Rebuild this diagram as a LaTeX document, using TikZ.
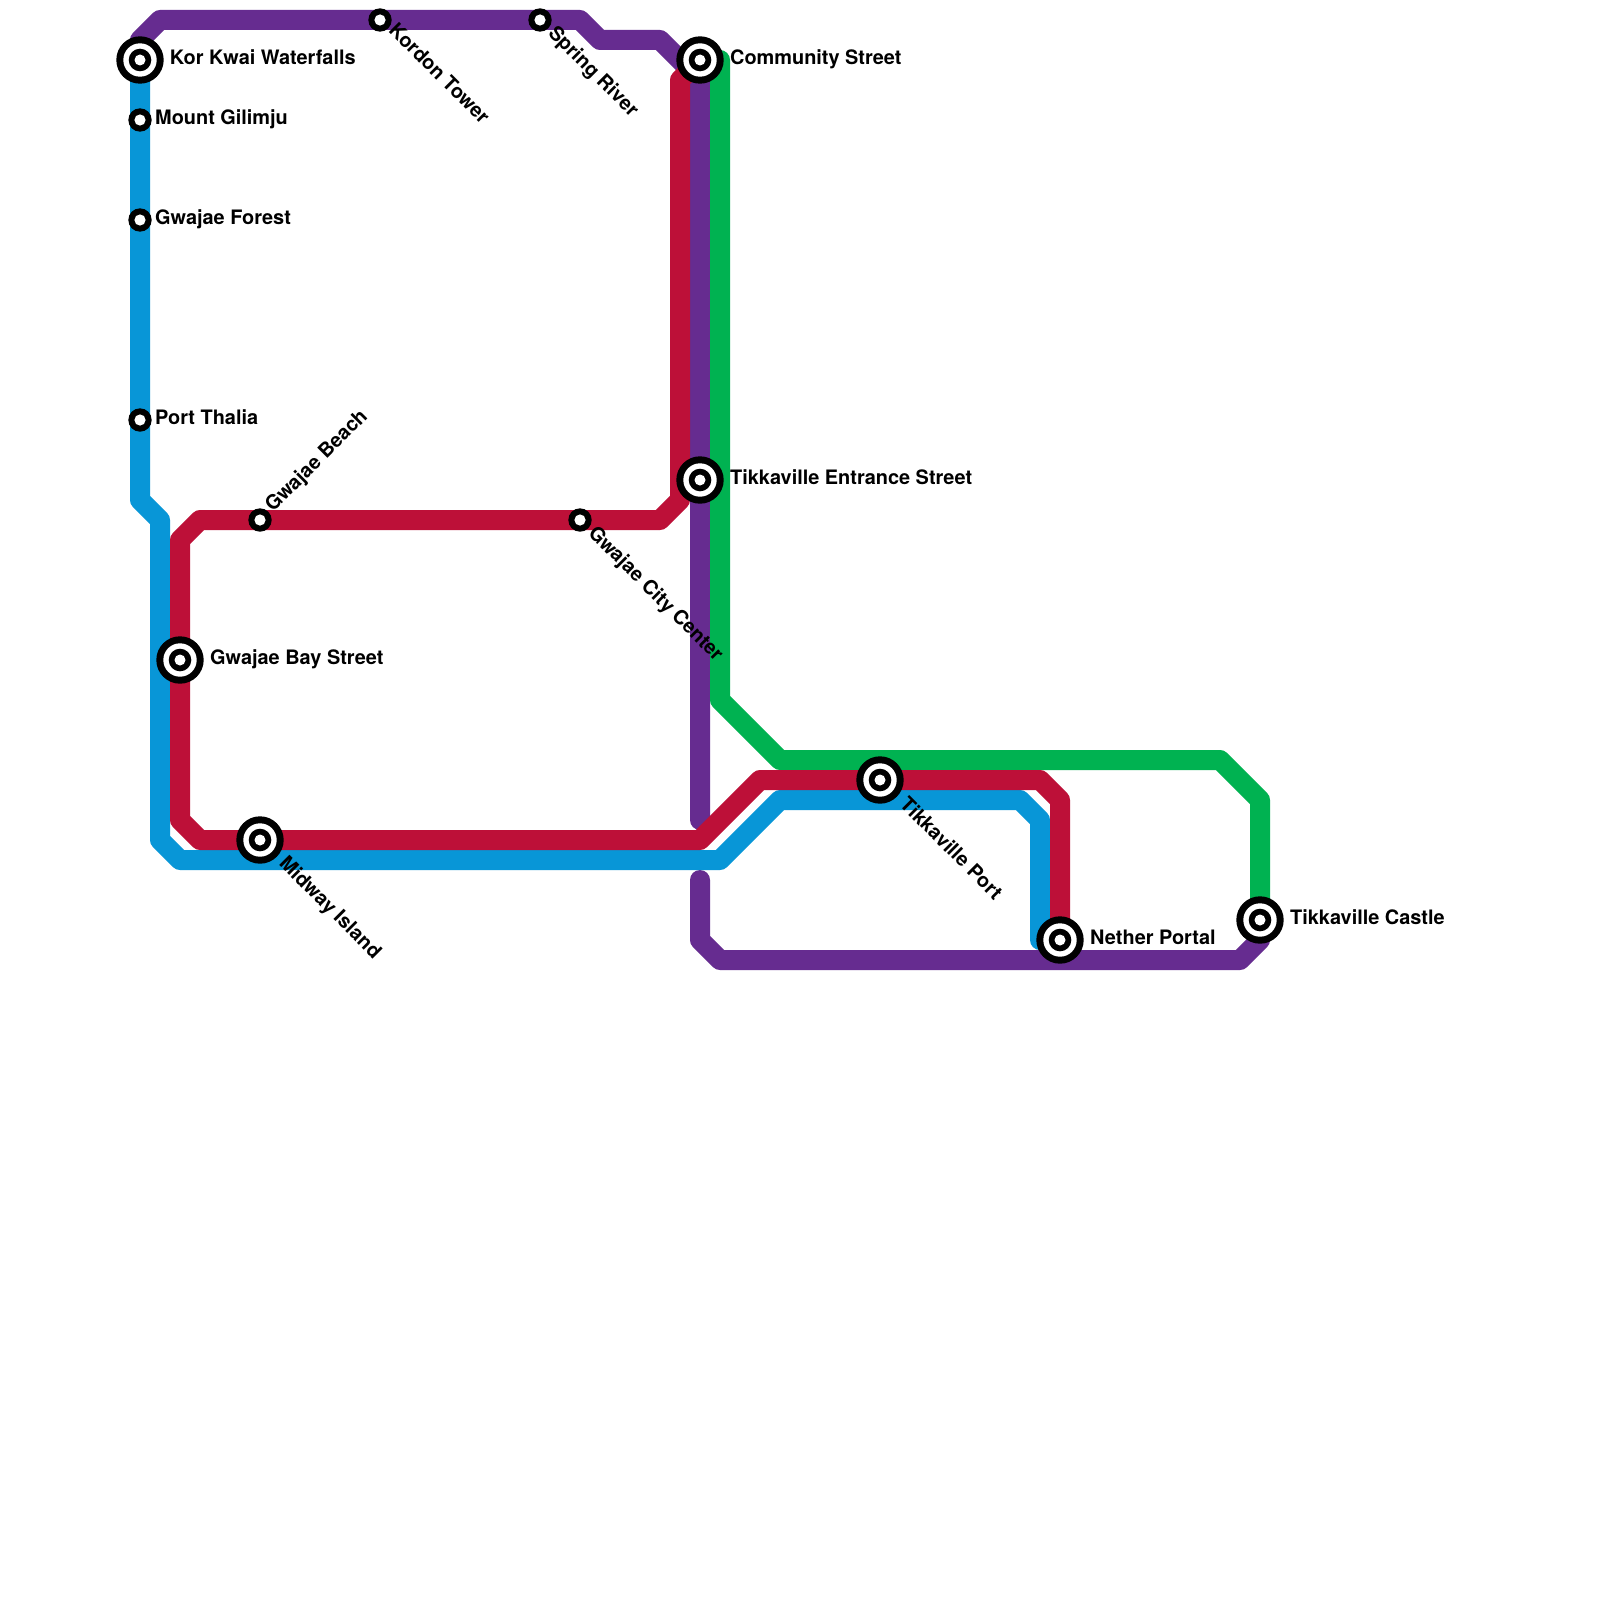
\documentclass[tikz,border=0pt]{standalone}
\usepackage{fontspec}
\setmainfont{TeX Gyre Heros}
\pgfdeclarelayer{bg}
\pgfsetlayers{bg,main}
\definecolor{lblue}{HTML}{0896D7}
\definecolor{lred}{HTML}{BD1038}
\definecolor{lpurple}{HTML}{662C90}
\definecolor{lgreen}{HTML}{00B251}
\tikzset{
  metro/.style={line width=20pt,line join=round,line cap=round},
  disc/.style={circle,inner sep=0pt,outer sep=0pt,minimum size=#1},
  blackdisc/.style={disc=#1,fill=black},
  whitedisc/.style={disc=#1,fill=white},
  lab/.style={anchor=west,inner sep=0pt,text height=14.4pt,text depth=0pt,font=\fontsize{19.9}{24}\selectfont\bfseries,text=black},
  labdown/.style={lab,rotate=-45},
  labup/.style={lab,rotate=45}
}
\newcommand{\BigSt}[2]{\node[blackdisc=47.4pt] (#1) at (#2) {}; \node[whitedisc=33.4pt] at (#2) {}; \node[blackdisc=22.6pt] at (#2) {}; \node[whitedisc=11pt] at (#2) {};}
\newcommand{\SmallSt}[2]{\node[blackdisc=23.4pt] (#1) at (#2) {}; \node[whitedisc=11.2pt] at (#2) {};}
\begin{document}
\begin{tikzpicture}[x=1pt,y=-1pt]
\useasboundingbox (0,0) rectangle (1600,1600);
% stations
\BigSt{kor}{140,60}
\SmallSt{gilimju}{140,120}
\SmallSt{forest}{140,220}
\SmallSt{thalia}{140,420}
\SmallSt{beach}{260,520}
\SmallSt{city}{580,520}
\SmallSt{kordon}{380,20}
\SmallSt{spring}{540,20}
\BigSt{community}{700,60}
\BigSt{entrance}{700,480}
\BigSt{bay}{180,660}
\BigSt{midway}{260,840}
\BigSt{port}{880,780}
\BigSt{nether}{1060,940}
\BigSt{castle}{1260,920}
\coordinate (purpleend) at (700,820);
\coordinate (purplestart) at (700,880);
\coordinate (greenstart) at (720,60);
% lines
\begin{pgfonlayer}{bg}
\fill[white] (0,0) rectangle (1600,1600);
\draw[metro,lpurple] (kor.center) -- (140,40) -- (160,20) -- (kordon.center) -- (spring.center) -- (580,20) -- (600,40) -- (660,40) -- (700,80) -- (entrance.center) -- (purpleend);
\draw[metro,lpurple] (purplestart) -- (700,940) -- (720,960) -- (1240,960) -- (1260,940) -- (castle.center);
\draw[metro,lgreen] (greenstart) -- (720,700) -- (780,760) -- (1220,760) -- (1260,800) -- (castle.center);
\draw[metro,lblue] (kor.center) -- (gilimju.center) -- (forest.center) -- (thalia.center) -- (140,500) -- (160,520) -- (160,840) -- (180,860) -- (720,860) -- (780,800) -- (1020,800) -- (1040,820) -- (1040,940) -- (nether.center);
\draw[metro,lred] (community.center) -- (680,80) -- (680,500) -- (660,520) -- (city.center) -- (beach.center) -- (200,520) -- (180,540) -- (bay.center) -- (180,820) -- (200,840) -- (midway.center) -- (700,840) -- (760,780) -- (port.center) -- (1040,780) -- (1060,800) -- (nether.center);
\end{pgfonlayer}
% labels
\node[lab] (lkor) at (169.7,57) {Kor Kwai Waterfalls};
\node[lab] (lgil) at (155,117) {Mount Gilimju};
\node[lab] (lfor) at (155,217) {Gwajae Forest};
\node[lab] (ltha) at (155,417) {Port Thalia};
\node[lab] (lcom) at (730,57) {Community Street};
\node[lab] (lent) at (730,477) {Tikkaville Entrance Street};
\node[lab] (lbay) at (210,657) {Gwajae Bay Street};
\node[lab] (lnet) at (1090,937) {Nether Portal};
\node[lab] (lcas) at (1290,917) {Tikkaville Castle};
\node[labup] (lbea) at (267.9,507.9) {Gwajae Beach};
\node[labdown] (lkrd) at (392.7,26.3) {Kordon Tower};
\node[labdown] (lspr) at (552.2,28.9) {Spring River};
\node[labdown] (lcit) at (592.2,528.9) {Gwajae City Center};
\node[labdown] (lmid) at (283.2,859.3) {Midway Island};
\node[labdown] (lpor) at (903.7,800.3) {Tikkaville Port};
\end{tikzpicture}
\end{document}
